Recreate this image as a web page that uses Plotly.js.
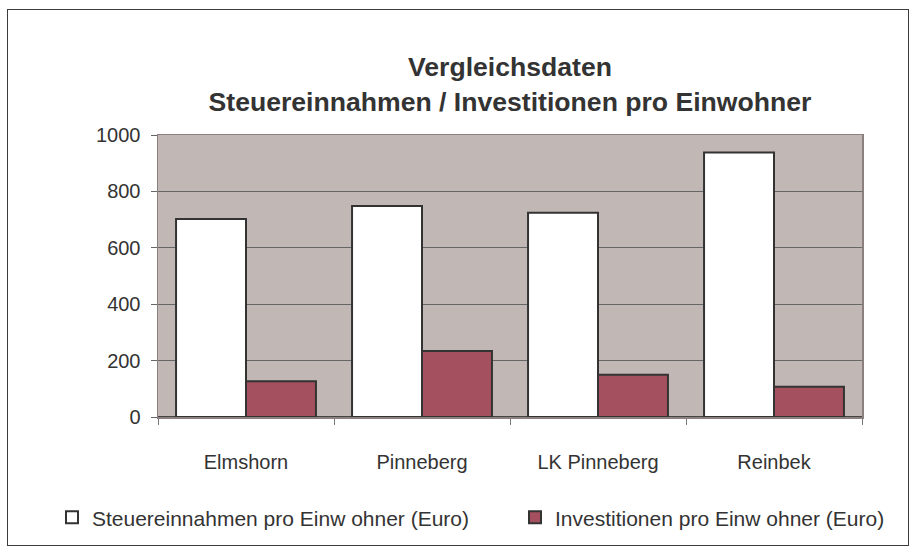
<!DOCTYPE html>
<html>
<head>
<meta charset="utf-8">
<script src="https://cdn.plot.ly/plotly-3.0.1.min.js"></script>
<style>
  html, body { margin: 0; padding: 0; background: #ffffff; }
  #wrap { position: relative; width: 917px; height: 553px; }
  #chart { position: absolute; left: 0; top: 0; width: 917px; height: 553px; }
  #frame { position: absolute; left: 7px; top: 9px; width: 900px; height: 535px;
           border: 1.5px solid #3c3c3c; pointer-events: none; }
</style>
</head>
<body>
<div id="wrap">
  <div id="chart"></div>
  <div id="frame"></div>
</div>
<script>
const categories = ["Elmshorn", "Pinneberg", "LK Pinneberg", "Reinbek"];
const steuerName = "Steuereinnahmen pro Einw ohner (Euro)";
const investName = "Investitionen pro Einw ohner (Euro)";
const steuerValues = [702, 748, 724, 938];
const investValues = [127, 234, 150, 107];
const yTickValues = [0, 200, 400, 600, 800, 1000];

const font = "Liberation Sans, Arial, Helvetica, sans-serif";

const traces = [
  {
    type: "bar", name: steuerName, x: categories, y: steuerValues,
    marker: { color: "#ffffff", line: { color: "#333333", width: 2 } },
    legend: "legend",
    hoverinfo: "skip"
  },
  {
    type: "bar", name: investName, x: categories, y: investValues,
    marker: { color: "#a5505f", line: { color: "#333333", width: 2 } },
    legend: "legend2",
    hoverinfo: "skip"
  }
];

const legendFont = { family: font, size: 21, color: "#333333" };
const legendY = (416.5 - 517) / 281.5;

const layout = {
  width: 917, height: 553,
  margin: { l: 158, r: 55, t: 135, b: 136, pad: 0, autoexpand: false },
  paper_bgcolor: "#ffffff",
  plot_bgcolor: "#c1b7b4",
  barmode: "group",
  bargap: 0.205,
  bargroupgap: 0,
  font: { family: font, size: 20, color: "#333333" },
  title: {
    text: "<b>Vergleichsdaten</b><br><b>Steuereinnahmen / Investitionen pro Einwohner</b>",
    font: { family: font, size: 26.6, color: "#333333" },
    x: 0.5, xref: "paper", xanchor: "center",
    y: 0.862, yref: "container", yanchor: "middle"
  },
  xaxis: {
    type: "category",
    showgrid: false,
    showline: true, linecolor: "#8b807d", linewidth: 1.5, mirror: true,
    ticks: "outside", tickson: "boundaries", ticklen: 6, tickcolor: "#777777", tickwidth: 1,
    ticklabelstandoff: 26,
    tickfont: { family: font, size: 20, color: "#333333" },
    zeroline: false
  },
  yaxis: {
    range: [0, 1000],
    tickvals: yTickValues,
    showgrid: true, gridcolor: "#666666", gridwidth: 1,
    showline: true, linecolor: "#8b807d", linewidth: 1.5, mirror: true,
    ticks: "outside", ticklen: 6, tickcolor: "#666666", tickwidth: 1,
    ticklabelstandoff: 6,
    tickfont: { family: font, size: 20, color: "#333333" },
    zeroline: true, zerolinecolor: "#444444", zerolinewidth: 1.5
  },
  showlegend: true,
  legend: {
    orientation: "h",
    x: -0.1506, xanchor: "left",
    y: legendY, yanchor: "middle",
    font: legendFont,
    bgcolor: "rgba(0,0,0,0)"
  },
  legend2: {
    orientation: "h",
    x: 0.5071, xanchor: "left",
    y: legendY, yanchor: "middle",
    font: legendFont,
    bgcolor: "rgba(0,0,0,0)"
  }
};

Plotly.newPlot("chart", traces, layout, { staticPlot: true, displayModeBar: false });
</script>
</body>
</html>
